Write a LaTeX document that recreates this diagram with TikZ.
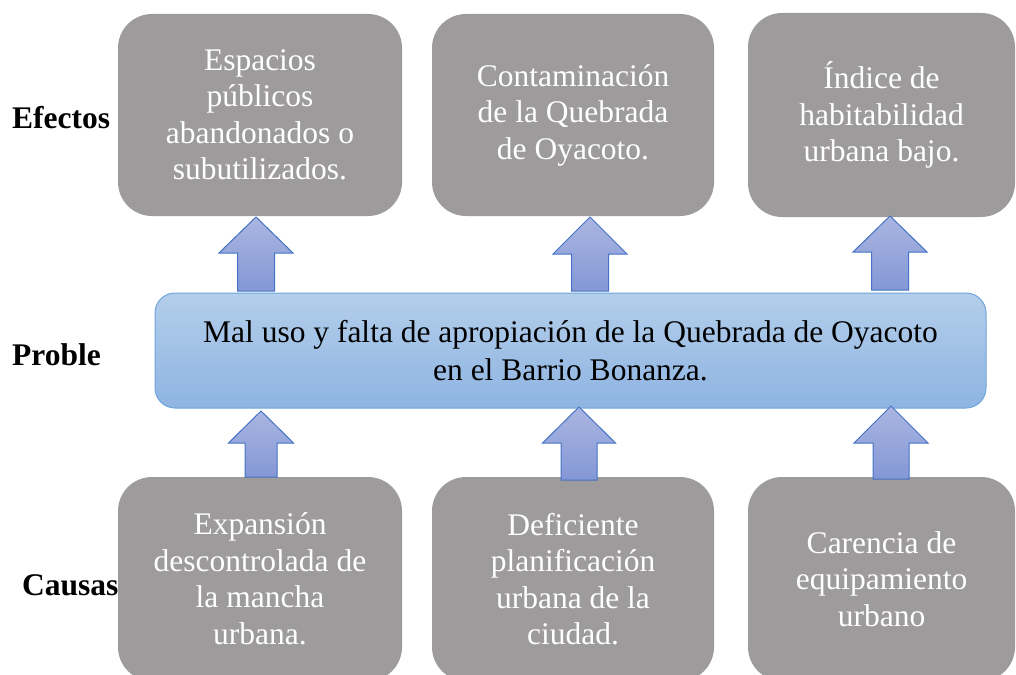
\documentclass[tikz,border=0pt]{standalone}
\usepackage{fontspec}
\setmainfont{Liberation Serif}[Ligatures=TeX]
\newfontfamily\tnr{Liberation Serif}
\definecolor{boxgray}{HTML}{9E9B9C}
\definecolor{midtop}{HTML}{B3CEEA}
\definecolor{midbot}{HTML}{8EB4E2}
\definecolor{midline}{HTML}{6FA5DB}
\definecolor{arrtop}{HTML}{AAB6E1}
\definecolor{arrbot}{HTML}{8497D6}
\definecolor{arrline}{HTML}{4472C4}
\newcommand\blkarrow[7]{%
  \path[arrowshape] (#2,#4) -- (#2+#7,#4) -- (#2+#7,#5) -- (#2+#6,#5) -- (#2,#3) -- (#2-#6,#5) -- (#2-#7,#5) -- (#2-#7,#4) -- cycle;
  \coordinate (#1) at (#2,#3);}
\begin{document}
\begin{tikzpicture}[x=1pt,y=-1pt,
  gbox/.style={rounded corners=34pt, fill=boxgray, text=white, align=center, inner sep=0pt,
    font=\tnr\fontsize{31.5}{36.5}\selectfont},
  midbox/.style={rounded corners=20pt, top color=midtop, bottom color=midbot, draw=midline, line width=1pt,
    align=center, inner sep=0pt, font=\tnr\fontsize{31.5}{38}\selectfont},
  arrowshape/.style={top color=arrtop, bottom color=arrbot, draw=arrline, line width=1pt, line join=miter},
  lbl/.style={font=\tnr\fontsize{31.5}{36}\selectfont\bfseries, inner sep=0pt, anchor=west}]
\useasboundingbox (0,0) rectangle (1016,674);
\clip (0,0) rectangle (1016,674);
% labels
\node[lbl] (lefe) at (12,118) {Efectos};
\node[lbl] (lpro) at (12,355) {Proble};
\node[lbl] (lcau) at (22,585) {Causas};
% effect boxes
\node[gbox, minimum width=284pt, minimum height=202pt] (e1) at (260,115) {Espacios\\públicos\\abandonados o\\subutilizados.};
\node[gbox, minimum width=282pt, minimum height=202pt] (e2) at (573,115) {Contaminación\\de la Quebrada\\de Oyacoto.};
\node[gbox, minimum width=267pt, minimum height=204pt] (e3) at (881.5,115) {Índice de\\habitabilidad\\urbana bajo.};
% problem
\node[midbox, minimum width=831pt, minimum height=115pt] (p) at (570.5,350.5) {Mal uso y falta de apropiación de la Quebrada de Oyacoto\\en el Barrio Bonanza.};
% cause boxes
\node[gbox, minimum width=284pt, minimum height=204pt] (c1) at (260,579) {Expansión\\descontrolada de\\la mancha\\urbana.};
\node[gbox, minimum width=282pt, minimum height=204pt] (c2) at (573,579) {Deficiente\\planificación\\urbana de la\\ciudad.};
\node[gbox, minimum width=267pt, minimum height=204pt] (c3) at (881.5,579) {Carencia de\\equipamiento\\urbano};
% arrows (cause -> problem -> effect)
\blkarrow{a1}{256}{217}{291}{253}{37}{18.5}
\blkarrow{a2}{590}{217}{291}{254}{37}{18.5}
\blkarrow{a3}{890}{216}{290}{252}{37}{18.5}
\blkarrow{b1}{261}{411}{477}{443}{32.5}{16}
\blkarrow{b2}{579}{407}{480}{443}{36.5}{18}
\blkarrow{b3}{891}{406}{479}{443}{37}{18}
\end{tikzpicture}
\end{document}
